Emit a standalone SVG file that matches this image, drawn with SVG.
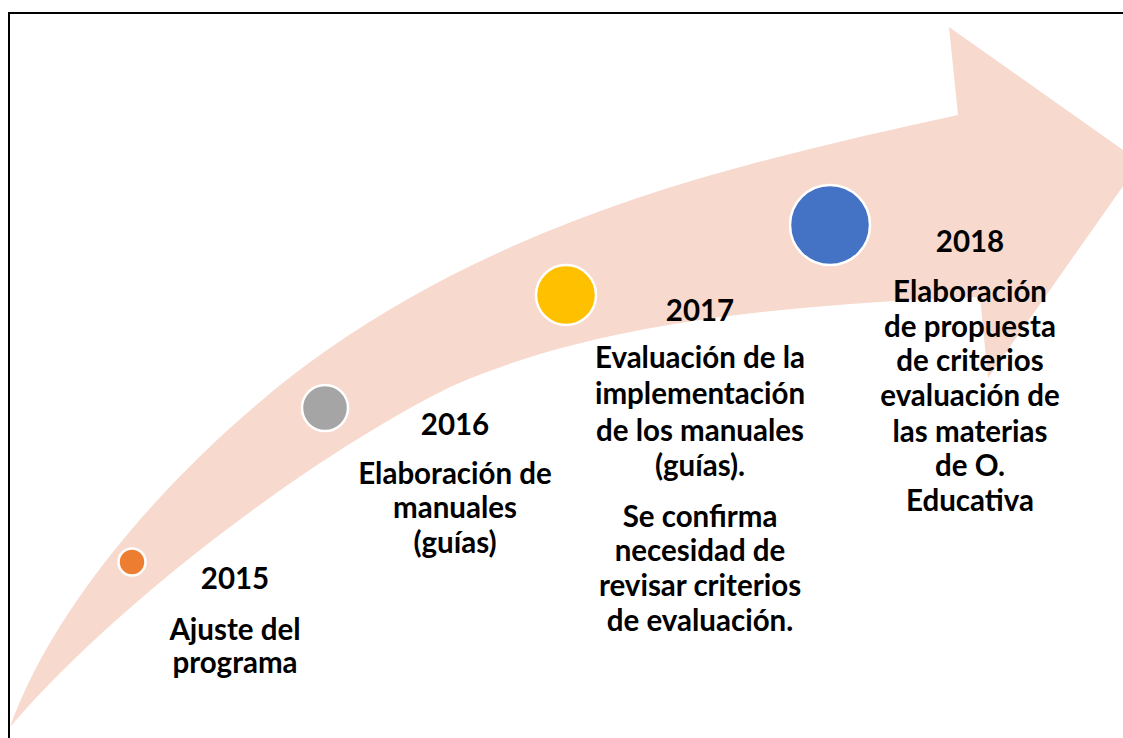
<svg xmlns="http://www.w3.org/2000/svg" width="1123" height="738" viewBox="0 0 1123 738">
<style>
.t{font-family:Lato,"Open Sans","Liberation Sans",sans-serif;font-weight:bold;font-size:29.5px;fill:#000;text-anchor:middle}
.dot{stroke:#fff;stroke-width:2.5}
</style>
<rect width="1123" height="738" fill="#fff"/>
<g id="frame" stroke="#000" stroke-width="2" fill="none">
<path d="M9,738 V13 H1123"/>
</g>
<g id="arrow">
<path fill="#F7D9CE" d="M10,727 C64,577 217,427 327,350 C527,210 758,159 958,115 L949,27 L1140,162 L988,378 L980,297 C800,304 600,320 450,387 C300,462 110,610 10,727 Z"/>
</g>
<g id="n2015">
<circle class="dot" cx="132" cy="562" r="13.5" fill="#ED7D31"/>
<text class="t" x="235" y="589">2015</text>
<text class="t" x="235" y="640">Ajuste del</text>
<text class="t" x="235" y="673">programa</text>
</g>
<g id="n2016">
<circle class="dot" cx="325" cy="408" r="23" fill="#A5A5A5"/>
<text class="t" x="455" y="435">2016</text>
<text class="t" x="455" y="484">Elaboración de</text>
<text class="t" x="455" y="518">manuales</text>
<text class="t" x="455" y="553">(guías)</text>
</g>
<g id="n2017">
<circle class="dot" cx="566" cy="295" r="30" fill="#FFC000"/>
<text class="t" x="700" y="321">2017</text>
<text class="t" x="700" y="368">Evaluación de la</text>
<text class="t" x="700" y="404">implementación</text>
<text class="t" x="700" y="441">de los manuales</text>
<text class="t" x="700" y="476">(guías).</text>
<text class="t" x="700" y="527">Se confirma</text>
<text class="t" x="700" y="561">necesidad de</text>
<text class="t" x="700" y="596">revisar criterios</text>
<text class="t" x="700" y="631">de evaluación.</text>
</g>
<g id="n2018">
<circle class="dot" cx="830" cy="225" r="40" fill="#4472C4"/>
<text class="t" x="970" y="252">2018</text>
<text class="t" x="970" y="302">Elaboración</text>
<text class="t" x="970" y="337">de propuesta</text>
<text class="t" x="970" y="371">de criterios</text>
<text class="t" x="970" y="406">evaluación de</text>
<text class="t" x="970" y="442">las materias</text>
<text class="t" x="970" y="476">de O.</text>
<text class="t" x="970" y="511">Educativa</text>
</g>
</svg>
